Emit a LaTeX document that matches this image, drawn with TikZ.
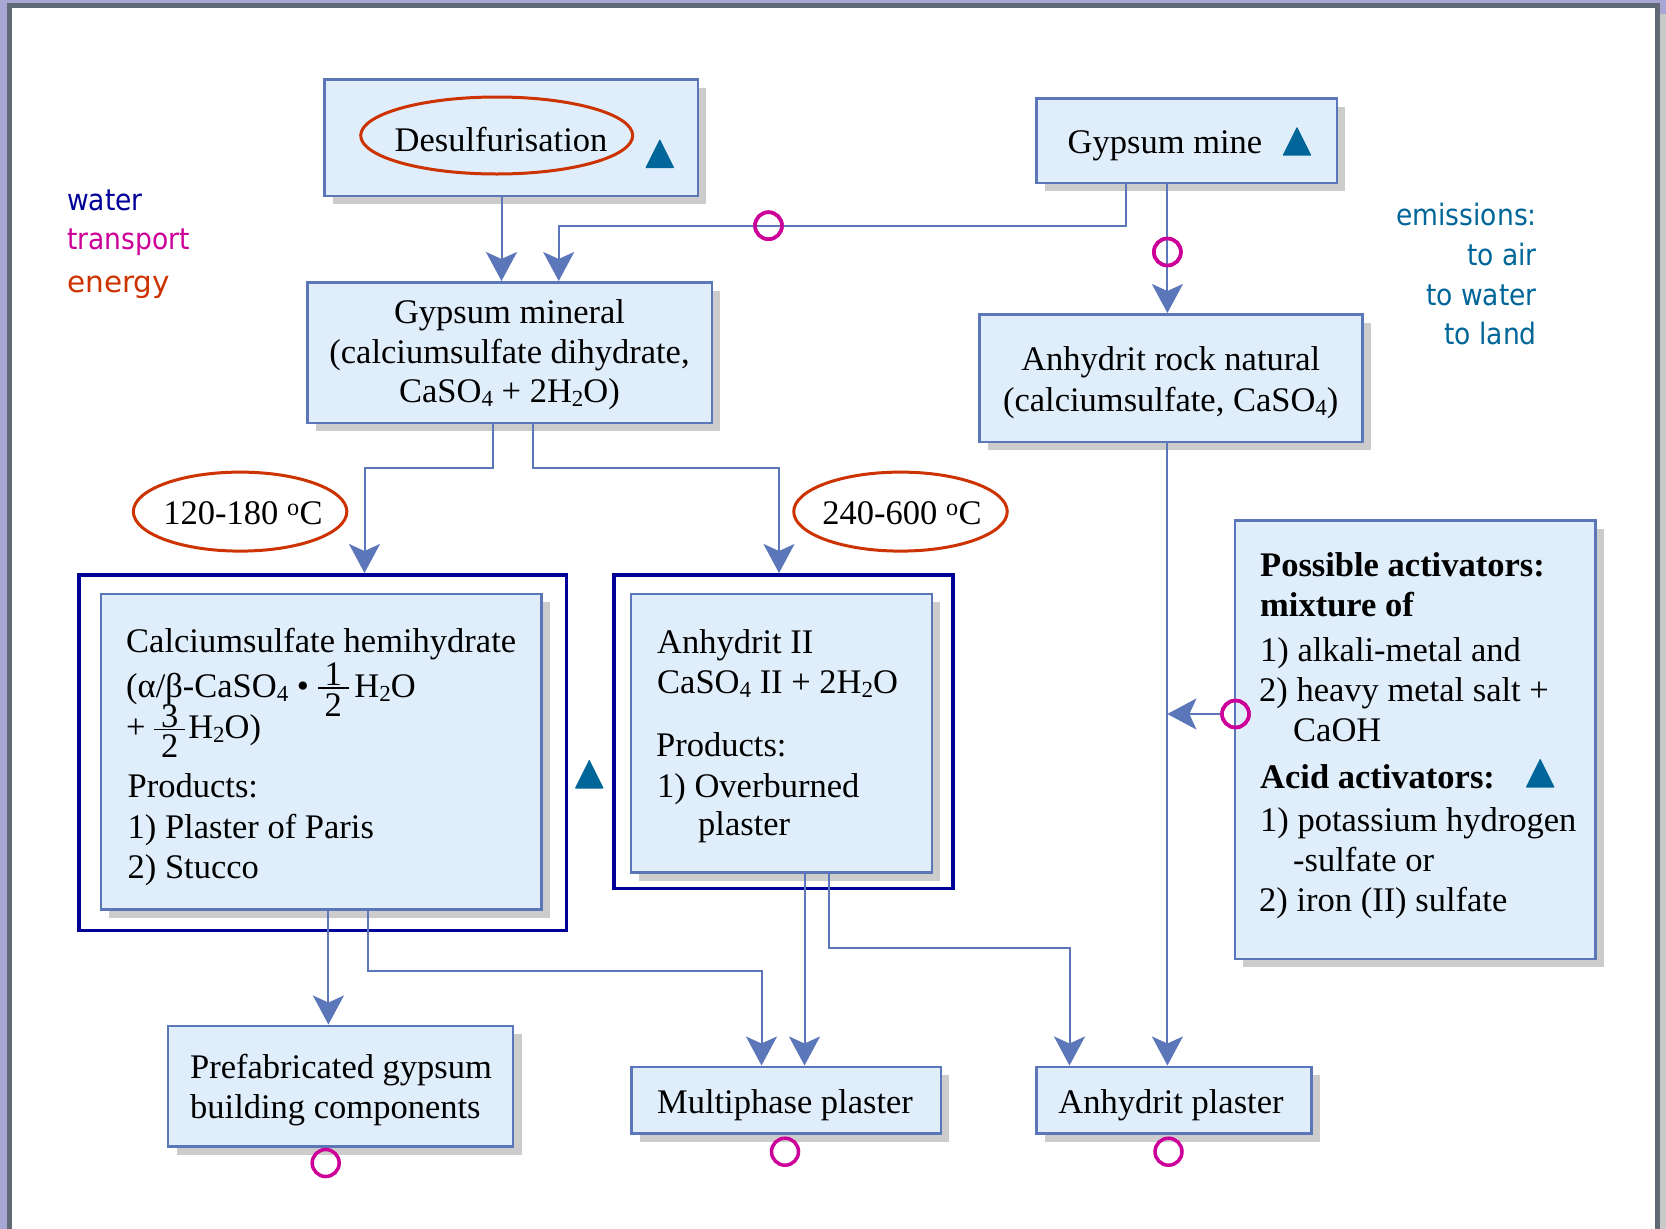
\documentclass[tikz,border=0pt]{standalone}
\usepackage{fontspec}
\setmainfont{Liberation Serif}
\newfontfamily\legendsans[FakeStretch=0.9]{DejaVu Sans}
\newfontfamily\legendsanswide{DejaVu Sans}
\usetikzlibrary{arrows.meta,shapes.geometric,shadows}

\definecolor{pagebg}{RGB}{168,166,212}
\definecolor{framegray}{RGB}{95,106,118}
\definecolor{framesh}{RGB}{200,200,200}
\definecolor{boxfill}{RGB}{224,238,252}
\definecolor{lineblue}{RGB}{92,118,186}
\definecolor{navyframe}{RGB}{0,0,153}
\definecolor{energycol}{RGB}{204,51,0}
\definecolor{transpcol}{RGB}{204,0,153}
\definecolor{emiscol}{RGB}{0,102,153}
\definecolor{shadowgray}{RGB}{204,204,204}

\newcommand\serifsize{\fontsize{34.5}{40}\selectfont}
\newcommand\sanssize{\fontsize{29.5}{36}\selectfont}
% chemical subscript
\newcommand\dn[1]{\raisebox{-4pt}{\fontsize{23}{23}\selectfont #1}}
% stacked text fraction that does not disturb the line spacing
\newcommand\hfr[2]{\smash{\makebox[0.9em]{\rlap{\makebox[0.9em]{\raisebox{0.33em}{#1}}}\rlap{\makebox[0.9em]{\raisebox{-0.56em}{#2}}}\rule[0.24em]{0.9em}{0.04em}}}}

\tikzset{
  box/.style={draw=lineblue, line width=2.5pt, fill=boxfill, inner sep=0,
    drop shadow={shadow xshift=8.5pt, shadow yshift=-8.5pt, fill=shadowgray, opacity=1}},
  group/.style={draw=navyframe, line width=3.5pt, inner sep=0},
  temp/.style={ellipse, draw=energycol, line width=3pt, inner sep=0},
  ring/.style={circle, draw=transpcol, line width=3.5pt, minimum size=27pt, inner sep=0},
  conn/.style={draw=lineblue, line width=2pt, -{Stealth[length=29pt, width=31pt, inset=7pt]}},
  tc/.style={anchor=base, inner sep=0, font=\serifsize},
  tl/.style={anchor=base west, inner sep=0, font=\serifsize},
  tb/.style={anchor=base west, inner sep=0, font=\serifsize\bfseries},
  legend/.style={anchor=base west, inner sep=0, font=\legendsans\sanssize},
  emis/.style={anchor=base east, inner sep=0, font=\legendsans\sanssize, text=emiscol},
  warn/.pic={\fill[emiscol, rounded corners=0.8pt] (-14.5,14.5) -- (0,-14.5) -- (14.5,14.5) -- cycle;}
}

\begin{document}
\begin{tikzpicture}[x=1pt, y=-1pt]
\useasboundingbox (0,0) rectangle (1666,1229);
\clip (0,0) rectangle (1666,1229);

% page and frame
\fill[pagebg] (0,0) rectangle (1666,1229);
\fill[framesh] (17.5,13.5) rectangle (1670,1240);
\filldraw[fill=white, draw=framegray, line width=5pt] (9.8,5.8) rectangle (1657.5,1240);

% process boxes
\node[box, minimum width=373.5pt, minimum height=116.5pt] (desulf)  at (511,137.5)   {};
\node[box, minimum width=300.5pt, minimum height=84.5pt]  (mine)    at (1186.5,140.5) {};
\node[box, minimum width=404.5pt, minimum height=140.5pt] (mineral) at (509.5,352.5) {};
\node[box, minimum width=383pt,   minimum height=127.5pt] (rock)    at (1170.75,378) {};
\node[group, minimum width=487.5pt, minimum height=355.5pt] (hemiout) at (322.5,752.5) {};
\node[group, minimum width=339pt,   minimum height=313.5pt] (anhout)  at (783.25,731.5) {};
\node[box, minimum width=440.5pt, minimum height=315.5pt] (hemi)    at (321,751.5)   {};
\node[box, minimum width=301pt,   minimum height=278.5pt] (anh)     at (781.25,733)  {};
\node[box, minimum width=360.5pt, minimum height=438.5pt] (act)     at (1415,739.5)  {};
\node[box, minimum width=345pt,   minimum height=120.5pt] (prefab)  at (340.5,1086)  {};
\node[box, minimum width=309.5pt, minimum height=66.5pt]  (multi)   at (786,1100)    {};
\node[box, minimum width=275pt,   minimum height=66.5pt]  (anhpl)   at (1173.75,1100) {};

% bend points of the connectors
\coordinate (a1) at (501.5,0);
\coordinate (m1) at (1126,225.7);
\coordinate (m2) at (558.7,225.7);
\coordinate (m3) at (1167.4,0);
\coordinate (g1) at (493,467.5);
\coordinate (g2) at (364.5,467.5);
\coordinate (g3) at (532.5,467.5);
\coordinate (g4) at (779,467.5);
\coordinate (h1) at (328.4,0);
\coordinate (h2) at (367.8,970.5);
\coordinate (h3) at (761.5,970.5);
\coordinate (n1) at (804.5,0);
\coordinate (n2) at (828.9,947.75);
\coordinate (n3) at (1069.5,947.75);
\coordinate (j1) at (1167.4,714);

% transport markers
\node[ring] (r1) at (768.5,225.7) {};
\node[ring] (r2) at (1167.4,252) {};
\node[ring] (r3) at (1235.5,714) {};
\node[ring] (r4) at (325.7,1163) {};
\node[ring] (r5) at (785,1151.7) {};
\node[ring] (r6) at (1168.5,1151.7) {};

% connectors
\draw[conn] (desulf.south -| a1) -- (mineral.north -| a1);
\draw[conn] (mine.south -| m1) -- (m1) -- (m2) -- (mineral.north -| m2);
\draw[conn] (mine.south -| m3) -- (rock.north -| m3);
\draw[conn] (mineral.south -| g1) -- (g1) -- (g2) -- (hemiout.north -| g2);
\draw[conn] (mineral.south -| g3) -- (g3) -- (g4) -- (anhout.north -| g4);
\draw[conn] (hemi.south -| h1) -- (prefab.north -| h1);
\draw[conn] (hemi.south -| h2) -- (h2) -- (h3) -- (multi.north -| h3);
\draw[conn] (anh.south -| n1) -- (multi.north -| n1);
\draw[conn] (anh.south -| n2) -- (n2) -- (n3) -- (anhpl.north -| n3);
\draw[conn] (rock.south -| m3) -- (anhpl.north -| m3);
\draw[conn] (r3.west) -- (j1);

% rings drawn again on top of the lines
\foreach \r in {r1,r2,r3}
  \draw[transpcol, line width=3.5pt] (\r) circle[radius=13.5pt];

% energy ellipses
\node[temp, minimum width=272pt, minimum height=77pt] (desulfell) at (496.7,135.5) {};
\node[temp, minimum width=213.5pt, minimum height=79pt] (lowtemp)  at (240.1,511.6) {};
\node[temp, minimum width=213.5pt, minimum height=79pt] (hightemp) at (900.5,511.6) {};
\node[tc] (desulftxt) at (501,151) {Desulfurisation};
\node[tc] (lowtxt)    at (243,524.5) {120-180 \textsuperscript{o}C};
\node[tc] (hightxt)   at (902,524.5) {240-600 \textsuperscript{o}C};

% emission markers
\pic at (659.75,153.5) {warn};
\pic at (1297,141.2) {warn};
\pic at (589.25,774) {warn};
\pic at (1540.2,773) {warn};

% box texts
\node[tc] (minetxt) at (1165,153.5) {Gypsum mine};
\node[tc] (gm1) at (509.5,323.5) {Gypsum mineral};
\node[tc] (gm2) at (509.5,363.5) {(calciumsulfate dihydrate,};
\node[tc] (gm3) at (509.5,402.5) {CaSO\dn{4} + 2H\dn{2}O)};
\node[tc] (rk1) at (1170.75,370.5) {Anhydrit rock natural};
\node[tc] (rk2) at (1170.75,411.5) {(calciumsulfate, CaSO\dn{4})};

\node[tl] (hm1) at (126,652.5) {Calciumsulfate hemihydrate};
\node[tl] (hm2) at (126,697) {(α/β-CaSO\dn{4} • \hfr{1}{2}\,H\dn{2}O};
\node[tl] (hm3) at (126,738.5) {+ \hfr{3}{2}\kern3pt H\dn{2}O)};
\node[tl] (hm4) at (127.5,797.5) {Products:};
\node[tl] (hm5) at (127.5,838.5) {1) Plaster of Paris};
\node[tl] (hm6) at (127.5,878) {2) Stucco};

\node[tl] (an1) at (657,653.5) {Anhydrit II};
\node[tl] (an2) at (657,693.5) {CaSO\dn{4} II + 2H\dn{2}O};
\node[tl] (an3) at (656,756) {Products:};
\node[tl] (an4) at (657,797) {1) Overburned};
\node[tl] (an5) at (698,835.5) {plaster};

\node[tb] (ac1) at (1260,576.5) {Possible activators:};
\node[tb] (ac2) at (1260,616.5) {mixture of};
\node[tl] (ac3) at (1260,661) {1) alkali-metal and};
\node[tl] (ac4) at (1259,701.5) {2) heavy metal salt +};
\node[tl] (ac5) at (1293,741.5) {CaOH};
\node[tb] (ac6) at (1260,788) {Acid activators:};
\node[tl] (ac7) at (1260,831.5) {1) potassium hydrogen};
\node[tl] (ac8) at (1293,871) {-sulfate or};
\node[tl] (ac9) at (1259,911) {2) iron (II) sulfate};

\node[tl] (pf1) at (190,1078.5) {Prefabricated gypsum};
\node[tl] (pf2) at (190,1118) {building components};
\node[tc] (mptxt) at (785,1113) {Multiphase plaster};
\node[tc] (aptxt) at (1171,1113) {Anhydrit plaster};

% legend
\node[legend, text=navyframe] (lgw) at (67,210) {water};
\node[legend, text=transpcol] (lgt) at (67,249.5) {transport};
\node[legend, text=energycol, font=\legendsanswide\sanssize] (lge) at (67,292) {energy};

\node[emis] (em1) at (1537,225) {emissions:};
\node[emis] (em2) at (1537,265) {to air};
\node[emis] (em3) at (1537,305) {to water};
\node[emis] (em4) at (1537,344) {to land};
\end{tikzpicture}
\end{document}
